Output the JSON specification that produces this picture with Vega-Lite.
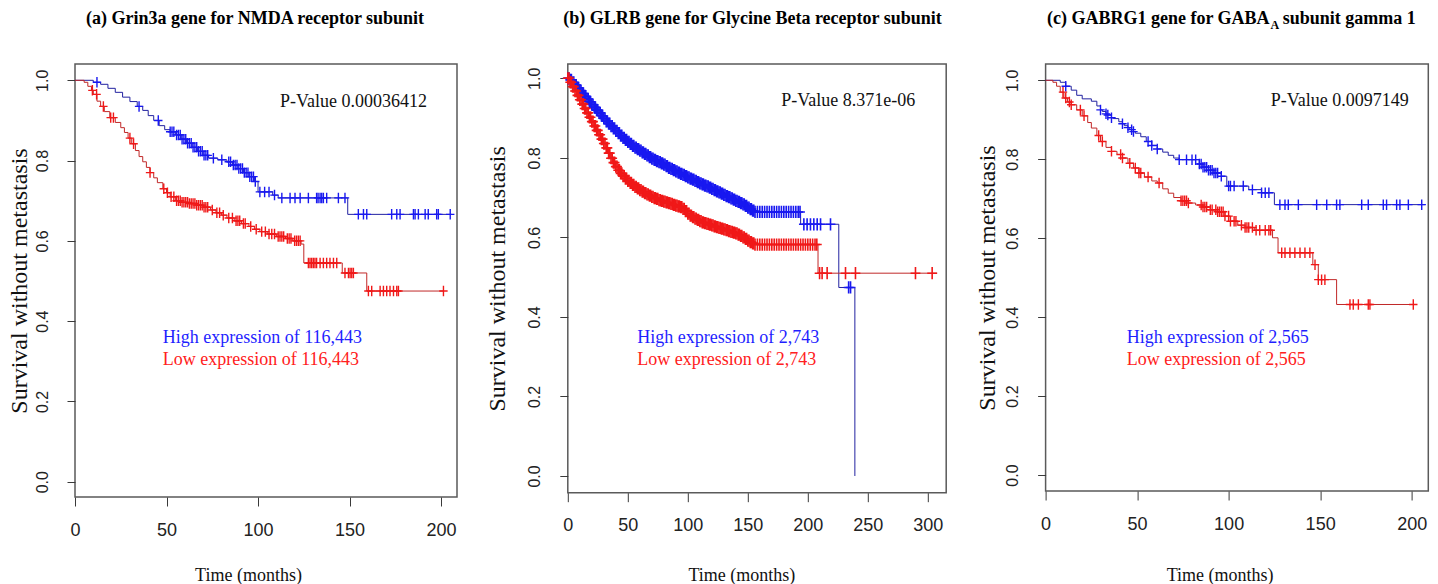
{
"$schema": "https://vega.github.io/schema/vega-lite/v6.json",
"background": "white",
"padding": {"left": 6, "top": 9, "right": 0, "bottom": 0},
"spacing": 26.8,
"bounds": "full",
"config": {
 "view": {"stroke": "#5a5a5a", "strokeWidth": 1.5},
 "axis": {"grid": false, "domain": false, "tickColor": "#3a3a3a", "tickWidth": 1, "labelColor": "#222222", "labelFont": "Liberation Sans", "titleFont": "Liberation Serif", "titleFontWeight": "normal", "titleColor": "#111111", "labelFlush": false, "labelOverlap": false},
 "axisX": {"tickSize": 9, "labelFontSize": 18, "labelPadding": 15, "titleFontSize": 18, "titleAlign": "center", "titleBaseline": "alphabetic", "titleAngle": 0},
 "axisY": {"tickSize": 8, "labelFontSize": 16, "labelAngle": 270, "labelAlign": "center", "labelBaseline": "bottom", "labelPadding": 17, "titleFontSize": 24, "titleAngle": 270, "titleAlign": "center", "titleBaseline": "middle"}
},
"hconcat": [
{
 "width": 382, "height": 433,
 "encoding": {
  "x": {"field": "x", "type": "quantitative", "scale": {"domain": [0, 208.7], "nice": false, "zero": false}, "axis": {"values": [0, 50, 100, 150, 200], "title": "Time (months)", "titleX": 173, "titleY": 83}},
  "y": {"field": "y", "type": "quantitative", "scale": {"domain": [-0.0381, 1.0406], "nice": false, "zero": false}, "axis": {"values": [0, 0.2, 0.4, 0.6, 0.8, 1], "format": ".1f", "title": "Survival without metastasis", "titleX": -55.5, "titleY": 216.5}}
 },
 "layer": [
  {"data": {"values": [
{"g":"H","x":0,"y":1,"c":0},{"g":"H","x":10,"y":0.995,"c":0},{"g":"H","x":12,"y":0.995,"c":1},{"g":"H","x":14,"y":0.99,"c":0},{"g":"H","x":18,"y":0.98,"c":0},{"g":"H","x":22,"y":0.97,"c":0},{"g":"H","x":26,"y":0.958,"c":0},{"g":"H","x":30,"y":0.947,"c":0},{"g":"H","x":34,"y":0.935,"c":0},{"g":"H","x":35,"y":0.935,"c":1},{"g":"H","x":37,"y":0.925,"c":0},{"g":"H","x":40,"y":0.912,"c":0},{"g":"H","x":43,"y":0.9,"c":0},{"g":"H","x":45.5,"y":0.9,"c":1},{"g":"H","x":46,"y":0.887,"c":0},{"g":"H","x":49,"y":0.877,"c":0},{"g":"H","x":52,"y":0.872,"c":1},{"g":"H","x":53,"y":0.872,"c":1},{"g":"H","x":54,"y":0.872,"c":1},{"g":"H","x":55,"y":0.864,"c":0},{"g":"H","x":55.5,"y":0.864,"c":1},{"g":"H","x":56.5,"y":0.864,"c":1},{"g":"H","x":57.5,"y":0.864,"c":1},{"g":"H","x":58,"y":0.853,"c":0},{"g":"H","x":58.5,"y":0.853,"c":1},{"g":"H","x":59.5,"y":0.853,"c":1},{"g":"H","x":60.5,"y":0.853,"c":1},{"g":"H","x":61,"y":0.843,"c":0},{"g":"H","x":61.5,"y":0.843,"c":1},{"g":"H","x":62.5,"y":0.843,"c":1},{"g":"H","x":63.5,"y":0.843,"c":1},{"g":"H","x":64,"y":0.833,"c":0},{"g":"H","x":64.5,"y":0.833,"c":1},{"g":"H","x":65.5,"y":0.833,"c":1},{"g":"H","x":66.5,"y":0.833,"c":1},{"g":"H","x":67,"y":0.823,"c":0},{"g":"H","x":67.5,"y":0.823,"c":1},{"g":"H","x":68.5,"y":0.823,"c":1},{"g":"H","x":69.5,"y":0.823,"c":1},{"g":"H","x":70,"y":0.813,"c":0},{"g":"H","x":70.5,"y":0.813,"c":1},{"g":"H","x":71.5,"y":0.813,"c":1},{"g":"H","x":72.5,"y":0.813,"c":1},{"g":"H","x":73,"y":0.806,"c":0},{"g":"H","x":75.6,"y":0.806,"c":1},{"g":"H","x":78,"y":0.802,"c":0},{"g":"H","x":80.2,"y":0.802,"c":1},{"g":"H","x":83,"y":0.797,"c":0},{"g":"H","x":84,"y":0.797,"c":1},{"g":"H","x":85,"y":0.797,"c":1},{"g":"H","x":86,"y":0.789,"c":0},{"g":"H","x":86.5,"y":0.789,"c":1},{"g":"H","x":87.5,"y":0.789,"c":1},{"g":"H","x":88.5,"y":0.789,"c":1},{"g":"H","x":89,"y":0.78,"c":0},{"g":"H","x":89.5,"y":0.78,"c":1},{"g":"H","x":90.5,"y":0.78,"c":1},{"g":"H","x":91.5,"y":0.78,"c":1},{"g":"H","x":92,"y":0.77,"c":0},{"g":"H","x":92.5,"y":0.77,"c":1},{"g":"H","x":93.5,"y":0.77,"c":1},{"g":"H","x":94.5,"y":0.77,"c":1},{"g":"H","x":95,"y":0.76,"c":0},{"g":"H","x":95.5,"y":0.76,"c":1},{"g":"H","x":96.5,"y":0.76,"c":1},{"g":"H","x":97.5,"y":0.76,"c":1},{"g":"H","x":98,"y":0.748,"c":0},{"g":"H","x":98.5,"y":0.748,"c":1},{"g":"H","x":100,"y":0.722,"c":0},{"g":"H","x":101,"y":0.722,"c":1},{"g":"H","x":103.6,"y":0.722,"c":1},{"g":"H","x":106,"y":0.722,"c":1},{"g":"H","x":108,"y":0.714,"c":0},{"g":"H","x":109,"y":0.714,"c":1},{"g":"H","x":111,"y":0.707,"c":0},{"g":"H","x":113,"y":0.707,"c":1},{"g":"H","x":117.5,"y":0.707,"c":1},{"g":"H","x":120.2,"y":0.707,"c":1},{"g":"H","x":123,"y":0.707,"c":1},{"g":"H","x":127.5,"y":0.707,"c":1},{"g":"H","x":132,"y":0.707,"c":1},{"g":"H","x":132.8,"y":0.707,"c":1},{"g":"H","x":133.9,"y":0.707,"c":1},{"g":"H","x":134.8,"y":0.707,"c":1},{"g":"H","x":135.7,"y":0.707,"c":1},{"g":"H","x":137.5,"y":0.707,"c":1},{"g":"H","x":143.9,"y":0.707,"c":1},{"g":"H","x":147.5,"y":0.707,"c":1},{"g":"H","x":149,"y":0.666,"c":0},{"g":"H","x":154.8,"y":0.666,"c":1},{"g":"H","x":157.6,"y":0.666,"c":1},{"g":"H","x":159.4,"y":0.666,"c":1},{"g":"H","x":173,"y":0.666,"c":1},{"g":"H","x":175.8,"y":0.666,"c":1},{"g":"H","x":177.6,"y":0.666,"c":1},{"g":"H","x":184.9,"y":0.666,"c":1},{"g":"H","x":185.8,"y":0.666,"c":1},{"g":"H","x":187.6,"y":0.666,"c":1},{"g":"H","x":191.3,"y":0.666,"c":1},{"g":"H","x":193,"y":0.666,"c":1},{"g":"H","x":197.6,"y":0.666,"c":1},{"g":"H","x":198.5,"y":0.666,"c":1},{"g":"H","x":205,"y":0.666,"c":1},{"g":"H","x":205.8,"y":0.666,"c":0},
{"g":"L","x":0,"y":1,"c":0},{"g":"L","x":5,"y":0.995,"c":0},{"g":"L","x":7,"y":0.985,"c":0},{"g":"L","x":9,"y":0.975,"c":0},{"g":"L","x":9.5,"y":0.975,"c":1},{"g":"L","x":10,"y":0.965,"c":0},{"g":"L","x":11.8,"y":0.965,"c":1},{"g":"L","x":12,"y":0.948,"c":0},{"g":"L","x":14,"y":0.935,"c":0},{"g":"L","x":15.5,"y":0.935,"c":1},{"g":"L","x":16,"y":0.922,"c":0},{"g":"L","x":19,"y":0.907,"c":0},{"g":"L","x":19.5,"y":0.907,"c":1},{"g":"L","x":21,"y":0.907,"c":1},{"g":"L","x":22,"y":0.895,"c":0},{"g":"L","x":25,"y":0.882,"c":0},{"g":"L","x":27,"y":0.87,"c":0},{"g":"L","x":29,"y":0.856,"c":0},{"g":"L","x":30,"y":0.856,"c":1},{"g":"L","x":31,"y":0.842,"c":0},{"g":"L","x":32,"y":0.842,"c":1},{"g":"L","x":33,"y":0.825,"c":0},{"g":"L","x":35,"y":0.81,"c":0},{"g":"L","x":37,"y":0.797,"c":0},{"g":"L","x":39,"y":0.783,"c":0},{"g":"L","x":41,"y":0.77,"c":1},{"g":"L","x":43,"y":0.757,"c":0},{"g":"L","x":45,"y":0.745,"c":0},{"g":"L","x":48,"y":0.73,"c":0},{"g":"L","x":48.5,"y":0.73,"c":1},{"g":"L","x":50,"y":0.72,"c":0},{"g":"L","x":50.5,"y":0.72,"c":1},{"g":"L","x":52,"y":0.71,"c":0},{"g":"L","x":52.5,"y":0.71,"c":1},{"g":"L","x":54,"y":0.71,"c":1},{"g":"L","x":55,"y":0.7,"c":0},{"g":"L","x":55.5,"y":0.7,"c":1},{"g":"L","x":56.5,"y":0.7,"c":1},{"g":"L","x":57.5,"y":0.7,"c":1},{"g":"L","x":58,"y":0.696,"c":0},{"g":"L","x":58.5,"y":0.696,"c":1},{"g":"L","x":59.5,"y":0.696,"c":1},{"g":"L","x":60.5,"y":0.696,"c":1},{"g":"L","x":61.5,"y":0.696,"c":1},{"g":"L","x":62,"y":0.693,"c":0},{"g":"L","x":62.5,"y":0.693,"c":1},{"g":"L","x":63.5,"y":0.693,"c":1},{"g":"L","x":64.5,"y":0.693,"c":1},{"g":"L","x":65.5,"y":0.693,"c":1},{"g":"L","x":66,"y":0.689,"c":0},{"g":"L","x":66.5,"y":0.689,"c":1},{"g":"L","x":67.5,"y":0.689,"c":1},{"g":"L","x":68.5,"y":0.689,"c":1},{"g":"L","x":69.5,"y":0.689,"c":1},{"g":"L","x":70,"y":0.684,"c":0},{"g":"L","x":70.5,"y":0.684,"c":1},{"g":"L","x":71.5,"y":0.684,"c":1},{"g":"L","x":72.5,"y":0.684,"c":1},{"g":"L","x":74,"y":0.677,"c":0},{"g":"L","x":75,"y":0.677,"c":1},{"g":"L","x":77,"y":0.67,"c":0},{"g":"L","x":77.5,"y":0.67,"c":1},{"g":"L","x":79,"y":0.67,"c":1},{"g":"L","x":80,"y":0.664,"c":0},{"g":"L","x":81,"y":0.664,"c":1},{"g":"L","x":83,"y":0.657,"c":0},{"g":"L","x":84,"y":0.657,"c":1},{"g":"L","x":86,"y":0.657,"c":1},{"g":"L","x":87,"y":0.65,"c":0},{"g":"L","x":88,"y":0.65,"c":1},{"g":"L","x":89,"y":0.65,"c":1},{"g":"L","x":90,"y":0.65,"c":1},{"g":"L","x":91,"y":0.643,"c":0},{"g":"L","x":92,"y":0.643,"c":1},{"g":"L","x":93,"y":0.643,"c":1},{"g":"L","x":95,"y":0.636,"c":0},{"g":"L","x":96,"y":0.636,"c":1},{"g":"L","x":98,"y":0.629,"c":0},{"g":"L","x":99,"y":0.629,"c":1},{"g":"L","x":101,"y":0.623,"c":0},{"g":"L","x":102,"y":0.623,"c":1},{"g":"L","x":104,"y":0.623,"c":1},{"g":"L","x":105,"y":0.617,"c":0},{"g":"L","x":106,"y":0.617,"c":1},{"g":"L","x":107.5,"y":0.617,"c":1},{"g":"L","x":109,"y":0.617,"c":1},{"g":"L","x":110,"y":0.611,"c":0},{"g":"L","x":111,"y":0.611,"c":1},{"g":"L","x":112,"y":0.611,"c":1},{"g":"L","x":113,"y":0.611,"c":1},{"g":"L","x":114,"y":0.611,"c":1},{"g":"L","x":115,"y":0.606,"c":0},{"g":"L","x":116,"y":0.606,"c":1},{"g":"L","x":117,"y":0.606,"c":1},{"g":"L","x":118,"y":0.606,"c":1},{"g":"L","x":119,"y":0.6,"c":0},{"g":"L","x":120,"y":0.6,"c":1},{"g":"L","x":121,"y":0.6,"c":1},{"g":"L","x":122,"y":0.6,"c":1},{"g":"L","x":123,"y":0.6,"c":1},{"g":"L","x":123.5,"y":0.592,"c":0},{"g":"L","x":125,"y":0.545,"c":0},{"g":"L","x":127.5,"y":0.545,"c":1},{"g":"L","x":128.4,"y":0.545,"c":1},{"g":"L","x":129.3,"y":0.545,"c":1},{"g":"L","x":130.2,"y":0.545,"c":1},{"g":"L","x":131.1,"y":0.545,"c":1},{"g":"L","x":132,"y":0.545,"c":1},{"g":"L","x":133.9,"y":0.545,"c":1},{"g":"L","x":135.7,"y":0.545,"c":1},{"g":"L","x":137.5,"y":0.545,"c":1},{"g":"L","x":139.3,"y":0.545,"c":1},{"g":"L","x":141.2,"y":0.545,"c":1},{"g":"L","x":143,"y":0.545,"c":1},{"g":"L","x":146,"y":0.52,"c":0},{"g":"L","x":147.5,"y":0.52,"c":1},{"g":"L","x":149.4,"y":0.52,"c":1},{"g":"L","x":150.3,"y":0.52,"c":1},{"g":"L","x":151.2,"y":0.52,"c":1},{"g":"L","x":152.1,"y":0.52,"c":1},{"g":"L","x":159.4,"y":0.475,"c":0},{"g":"L","x":160.3,"y":0.475,"c":1},{"g":"L","x":162.1,"y":0.475,"c":1},{"g":"L","x":166.7,"y":0.475,"c":1},{"g":"L","x":168.5,"y":0.475,"c":1},{"g":"L","x":170.3,"y":0.475,"c":1},{"g":"L","x":172.1,"y":0.475,"c":1},{"g":"L","x":174,"y":0.475,"c":1},{"g":"L","x":175.8,"y":0.475,"c":1},{"g":"L","x":176.7,"y":0.475,"c":1},{"g":"L","x":201.3,"y":0.475,"c":1},{"g":"L","x":201.6,"y":0.475,"c":0}
  ]},
  "layer": [
   {"mark": {"type": "line", "interpolate": "step-after", "strokeWidth": 1}, "encoding": {"color": {"field": "g", "type": "nominal", "scale": {"domain": ["H", "L"], "range": ["#2222a0", "#c02828"]}, "legend": null}}},
   {"transform": [{"filter": "datum.c == 1"}], "mark": {"type": "point", "shape": "M-0.8,0H0.8M0,-1V1", "size": 110, "strokeWidth": 1.4, "filled": false, "opacity": 1}, "encoding": {"stroke": {"field": "g", "type": "nominal", "scale": {"domain": ["H", "L"], "range": ["#1818f0", "#f01818"]}, "legend": null}}}
  ]},
  {"data": {"values": [{"x": 112, "y": 0.946, "t": "P-Value 0.00036412"}]}, "mark": {"type": "text", "align": "left", "baseline": "middle", "font": "Liberation Serif", "fontSize": 18, "color": "#111111"}, "encoding": {"text": {"field": "t"}}},
  {"data": {"values": [{"x": 47.9, "y": 0.357, "t": "High expression of 116,443"}]}, "mark": {"type": "text", "align": "left", "baseline": "middle", "font": "Liberation Serif", "fontSize": 18, "color": "#1f1fff"}, "encoding": {"text": {"field": "t"}}},
  {"data": {"values": [{"x": 47.9, "y": 0.303, "t": "Low expression of 116,443"}]}, "mark": {"type": "text", "align": "left", "baseline": "middle", "font": "Liberation Serif", "fontSize": 18, "color": "#ff2020"}, "encoding": {"text": {"field": "t"}}},
  {"data": {"values": [{"x": 98.4, "y": 1.1392, "t": "(a) Grin3a gene for NMDA receptor subunit"}]}, "mark": {"type": "text", "align": "center", "baseline": "alphabetic", "font": "Liberation Serif", "fontWeight": "bold", "fontSize": 18, "color": "#000000"}, "encoding": {"text": {"field": "t"}}}
 ]
},
{
 "width": 378.4, "height": 428.7,
 "encoding": {
  "x": {"field": "x", "type": "quantitative", "scale": {"domain": [0, 315.3], "nice": false, "zero": false}, "axis": {"values": [0, 50, 100, 150, 200, 250, 300], "title": "Time (months)", "titleX": 173.5, "titleY": 87.3}},
  "y": {"field": "y", "type": "quantitative", "scale": {"domain": [-0.042, 1.036], "nice": false, "zero": false}, "axis": {"values": [0, 0.2, 0.4, 0.6, 0.8, 1], "format": ".1f", "title": "Survival without metastasis", "titleX": -70, "titleY": 214.4}}
 },
 "layer": [
  {"data": {"values": [
{"g":"H","x":0,"y":1,"c":1},{"g":"H","x":1,"y":1,"c":1},{"g":"H","x":2,"y":0.996,"c":1},{"g":"H","x":3,"y":0.996,"c":1},{"g":"H","x":4,"y":0.99,"c":1},{"g":"H","x":5,"y":0.99,"c":1},{"g":"H","x":6,"y":0.983,"c":1},{"g":"H","x":7,"y":0.983,"c":1},{"g":"H","x":8,"y":0.976,"c":1},{"g":"H","x":9,"y":0.976,"c":1},{"g":"H","x":10,"y":0.969,"c":1},{"g":"H","x":11,"y":0.969,"c":1},{"g":"H","x":12,"y":0.962,"c":1},{"g":"H","x":13,"y":0.962,"c":1},{"g":"H","x":14,"y":0.955,"c":1},{"g":"H","x":15,"y":0.955,"c":1},{"g":"H","x":16,"y":0.948,"c":1},{"g":"H","x":17,"y":0.948,"c":1},{"g":"H","x":18,"y":0.941,"c":1},{"g":"H","x":19,"y":0.941,"c":1},{"g":"H","x":20,"y":0.934,"c":1},{"g":"H","x":21,"y":0.934,"c":1},{"g":"H","x":22,"y":0.927,"c":1},{"g":"H","x":23,"y":0.927,"c":1},{"g":"H","x":24,"y":0.92,"c":1},{"g":"H","x":25,"y":0.92,"c":1},{"g":"H","x":26,"y":0.913,"c":1},{"g":"H","x":27,"y":0.913,"c":1},{"g":"H","x":28,"y":0.906,"c":1},{"g":"H","x":29,"y":0.906,"c":1},{"g":"H","x":30,"y":0.899,"c":1},{"g":"H","x":31,"y":0.899,"c":1},{"g":"H","x":32,"y":0.892,"c":1},{"g":"H","x":33,"y":0.892,"c":1},{"g":"H","x":34,"y":0.886,"c":1},{"g":"H","x":35,"y":0.886,"c":1},{"g":"H","x":36,"y":0.88,"c":1},{"g":"H","x":37,"y":0.88,"c":1},{"g":"H","x":38,"y":0.874,"c":1},{"g":"H","x":39,"y":0.874,"c":1},{"g":"H","x":40,"y":0.868,"c":1},{"g":"H","x":41,"y":0.868,"c":1},{"g":"H","x":42,"y":0.862,"c":1},{"g":"H","x":43,"y":0.862,"c":1},{"g":"H","x":44,"y":0.856,"c":1},{"g":"H","x":45,"y":0.856,"c":1},{"g":"H","x":46,"y":0.85,"c":1},{"g":"H","x":47,"y":0.85,"c":1},{"g":"H","x":48,"y":0.845,"c":1},{"g":"H","x":49,"y":0.845,"c":1},{"g":"H","x":50,"y":0.84,"c":1},{"g":"H","x":51,"y":0.84,"c":1},{"g":"H","x":52,"y":0.835,"c":1},{"g":"H","x":53,"y":0.835,"c":1},{"g":"H","x":54,"y":0.83,"c":1},{"g":"H","x":55,"y":0.83,"c":1},{"g":"H","x":56,"y":0.826,"c":1},{"g":"H","x":57,"y":0.826,"c":1},{"g":"H","x":58,"y":0.822,"c":1},{"g":"H","x":59,"y":0.822,"c":1},{"g":"H","x":60,"y":0.818,"c":1},{"g":"H","x":61,"y":0.818,"c":1},{"g":"H","x":62,"y":0.814,"c":1},{"g":"H","x":63,"y":0.814,"c":1},{"g":"H","x":64,"y":0.81,"c":1},{"g":"H","x":65,"y":0.81,"c":1},{"g":"H","x":66,"y":0.806,"c":1},{"g":"H","x":67,"y":0.806,"c":1},{"g":"H","x":68,"y":0.802,"c":1},{"g":"H","x":69,"y":0.802,"c":1},{"g":"H","x":70,"y":0.798,"c":1},{"g":"H","x":71,"y":0.798,"c":1},{"g":"H","x":72,"y":0.795,"c":1},{"g":"H","x":73,"y":0.795,"c":1},{"g":"H","x":74,"y":0.792,"c":1},{"g":"H","x":75,"y":0.792,"c":1},{"g":"H","x":76,"y":0.789,"c":1},{"g":"H","x":77,"y":0.789,"c":1},{"g":"H","x":78,"y":0.786,"c":1},{"g":"H","x":79,"y":0.786,"c":1},{"g":"H","x":80,"y":0.783,"c":1},{"g":"H","x":81,"y":0.783,"c":1},{"g":"H","x":82,"y":0.779,"c":1},{"g":"H","x":83,"y":0.779,"c":1},{"g":"H","x":84,"y":0.775,"c":1},{"g":"H","x":85,"y":0.775,"c":1},{"g":"H","x":86,"y":0.772,"c":1},{"g":"H","x":87,"y":0.772,"c":1},{"g":"H","x":88,"y":0.769,"c":1},{"g":"H","x":89,"y":0.769,"c":1},{"g":"H","x":90,"y":0.766,"c":1},{"g":"H","x":91,"y":0.766,"c":1},{"g":"H","x":92,"y":0.763,"c":1},{"g":"H","x":93,"y":0.763,"c":1},{"g":"H","x":94,"y":0.76,"c":1},{"g":"H","x":95,"y":0.76,"c":1},{"g":"H","x":96,"y":0.757,"c":1},{"g":"H","x":97,"y":0.757,"c":1},{"g":"H","x":98,"y":0.754,"c":1},{"g":"H","x":99,"y":0.754,"c":1},{"g":"H","x":100,"y":0.751,"c":1},{"g":"H","x":101,"y":0.751,"c":1},{"g":"H","x":102,"y":0.748,"c":1},{"g":"H","x":103,"y":0.748,"c":1},{"g":"H","x":104,"y":0.745,"c":1},{"g":"H","x":105,"y":0.745,"c":1},{"g":"H","x":106,"y":0.742,"c":1},{"g":"H","x":107,"y":0.742,"c":1},{"g":"H","x":108,"y":0.739,"c":1},{"g":"H","x":109,"y":0.739,"c":1},{"g":"H","x":110,"y":0.736,"c":1},{"g":"H","x":111,"y":0.736,"c":1},{"g":"H","x":112,"y":0.733,"c":1},{"g":"H","x":113,"y":0.733,"c":1},{"g":"H","x":114,"y":0.73,"c":1},{"g":"H","x":115,"y":0.73,"c":1},{"g":"H","x":116,"y":0.728,"c":1},{"g":"H","x":117,"y":0.728,"c":1},{"g":"H","x":118,"y":0.725,"c":1},{"g":"H","x":119,"y":0.725,"c":1},{"g":"H","x":120,"y":0.722,"c":1},{"g":"H","x":121,"y":0.722,"c":1},{"g":"H","x":122,"y":0.719,"c":1},{"g":"H","x":123,"y":0.719,"c":1},{"g":"H","x":124,"y":0.716,"c":1},{"g":"H","x":125,"y":0.716,"c":1},{"g":"H","x":126,"y":0.713,"c":1},{"g":"H","x":127,"y":0.713,"c":1},{"g":"H","x":128,"y":0.71,"c":1},{"g":"H","x":129,"y":0.71,"c":1},{"g":"H","x":130,"y":0.707,"c":1},{"g":"H","x":131,"y":0.707,"c":1},{"g":"H","x":132,"y":0.704,"c":1},{"g":"H","x":133,"y":0.704,"c":1},{"g":"H","x":134,"y":0.701,"c":1},{"g":"H","x":135,"y":0.701,"c":1},{"g":"H","x":136,"y":0.698,"c":1},{"g":"H","x":137,"y":0.698,"c":1},{"g":"H","x":138,"y":0.695,"c":1},{"g":"H","x":139,"y":0.695,"c":1},{"g":"H","x":140,"y":0.692,"c":1},{"g":"H","x":141,"y":0.692,"c":1},{"g":"H","x":142,"y":0.689,"c":1},{"g":"H","x":143,"y":0.689,"c":1},{"g":"H","x":144,"y":0.686,"c":1},{"g":"H","x":145,"y":0.686,"c":1},{"g":"H","x":146,"y":0.683,"c":1},{"g":"H","x":147,"y":0.683,"c":1},{"g":"H","x":148,"y":0.679,"c":1},{"g":"H","x":149,"y":0.679,"c":1},{"g":"H","x":150,"y":0.675,"c":1},{"g":"H","x":151,"y":0.675,"c":1},{"g":"H","x":152,"y":0.671,"c":1},{"g":"H","x":153,"y":0.671,"c":1},{"g":"H","x":154,"y":0.667,"c":1},{"g":"H","x":155,"y":0.667,"c":1},{"g":"H","x":156,"y":0.664,"c":1},{"g":"H","x":158,"y":0.664,"c":1},{"g":"H","x":160,"y":0.664,"c":1},{"g":"H","x":162,"y":0.664,"c":1},{"g":"H","x":164,"y":0.664,"c":1},{"g":"H","x":166,"y":0.664,"c":1},{"g":"H","x":168,"y":0.664,"c":1},{"g":"H","x":170,"y":0.664,"c":1},{"g":"H","x":172,"y":0.664,"c":1},{"g":"H","x":174,"y":0.664,"c":1},{"g":"H","x":176,"y":0.664,"c":1},{"g":"H","x":178,"y":0.664,"c":1},{"g":"H","x":180,"y":0.664,"c":1},{"g":"H","x":182,"y":0.664,"c":1},{"g":"H","x":184,"y":0.664,"c":1},{"g":"H","x":186,"y":0.664,"c":1},{"g":"H","x":188,"y":0.664,"c":1},{"g":"H","x":190,"y":0.664,"c":1},{"g":"H","x":192,"y":0.664,"c":1},{"g":"H","x":193.5,"y":0.664,"c":1},{"g":"H","x":194,"y":0.633,"c":0},{"g":"H","x":196.7,"y":0.633,"c":1},{"g":"H","x":199.4,"y":0.633,"c":1},{"g":"H","x":202.2,"y":0.633,"c":1},{"g":"H","x":205,"y":0.633,"c":1},{"g":"H","x":207.8,"y":0.633,"c":1},{"g":"H","x":210.6,"y":0.633,"c":1},{"g":"H","x":218.9,"y":0.633,"c":1},{"g":"H","x":225.8,"y":0.474,"c":0},{"g":"H","x":234,"y":0.474,"c":1},{"g":"H","x":235.6,"y":0.474,"c":1},{"g":"H","x":239.2,"y":0,"c":0},
{"g":"L","x":0,"y":1,"c":1},{"g":"L","x":1,"y":1,"c":1},{"g":"L","x":2,"y":0.99,"c":1},{"g":"L","x":3,"y":0.99,"c":1},{"g":"L","x":4,"y":0.979,"c":1},{"g":"L","x":5,"y":0.979,"c":1},{"g":"L","x":6,"y":0.968,"c":1},{"g":"L","x":7,"y":0.968,"c":1},{"g":"L","x":8,"y":0.957,"c":1},{"g":"L","x":9,"y":0.957,"c":1},{"g":"L","x":10,"y":0.946,"c":1},{"g":"L","x":11,"y":0.946,"c":1},{"g":"L","x":12,"y":0.935,"c":1},{"g":"L","x":13,"y":0.935,"c":1},{"g":"L","x":14,"y":0.924,"c":1},{"g":"L","x":15,"y":0.924,"c":1},{"g":"L","x":16,"y":0.913,"c":1},{"g":"L","x":17,"y":0.913,"c":1},{"g":"L","x":18,"y":0.902,"c":1},{"g":"L","x":19,"y":0.902,"c":1},{"g":"L","x":20,"y":0.891,"c":1},{"g":"L","x":21,"y":0.891,"c":1},{"g":"L","x":22,"y":0.88,"c":1},{"g":"L","x":23,"y":0.88,"c":1},{"g":"L","x":24,"y":0.869,"c":1},{"g":"L","x":25,"y":0.869,"c":1},{"g":"L","x":26,"y":0.858,"c":1},{"g":"L","x":27,"y":0.858,"c":1},{"g":"L","x":28,"y":0.847,"c":1},{"g":"L","x":29,"y":0.847,"c":1},{"g":"L","x":30,"y":0.836,"c":1},{"g":"L","x":31,"y":0.836,"c":1},{"g":"L","x":32,"y":0.825,"c":1},{"g":"L","x":33,"y":0.825,"c":1},{"g":"L","x":34,"y":0.812,"c":1},{"g":"L","x":35,"y":0.812,"c":1},{"g":"L","x":36,"y":0.799,"c":1},{"g":"L","x":37,"y":0.799,"c":1},{"g":"L","x":38,"y":0.788,"c":1},{"g":"L","x":39,"y":0.788,"c":1},{"g":"L","x":40,"y":0.778,"c":1},{"g":"L","x":41,"y":0.778,"c":1},{"g":"L","x":42,"y":0.769,"c":1},{"g":"L","x":43,"y":0.769,"c":1},{"g":"L","x":44,"y":0.761,"c":1},{"g":"L","x":45,"y":0.761,"c":1},{"g":"L","x":46,"y":0.754,"c":1},{"g":"L","x":47,"y":0.754,"c":1},{"g":"L","x":48,"y":0.748,"c":1},{"g":"L","x":49,"y":0.748,"c":1},{"g":"L","x":50,"y":0.742,"c":1},{"g":"L","x":51,"y":0.742,"c":1},{"g":"L","x":52,"y":0.737,"c":1},{"g":"L","x":53,"y":0.737,"c":1},{"g":"L","x":54,"y":0.732,"c":1},{"g":"L","x":55,"y":0.732,"c":1},{"g":"L","x":56,"y":0.727,"c":1},{"g":"L","x":57,"y":0.727,"c":1},{"g":"L","x":58,"y":0.723,"c":1},{"g":"L","x":59,"y":0.723,"c":1},{"g":"L","x":60,"y":0.719,"c":1},{"g":"L","x":61,"y":0.719,"c":1},{"g":"L","x":62,"y":0.715,"c":1},{"g":"L","x":63,"y":0.715,"c":1},{"g":"L","x":64,"y":0.711,"c":1},{"g":"L","x":65,"y":0.711,"c":1},{"g":"L","x":66,"y":0.708,"c":1},{"g":"L","x":67,"y":0.708,"c":1},{"g":"L","x":68,"y":0.705,"c":1},{"g":"L","x":69,"y":0.705,"c":1},{"g":"L","x":70,"y":0.702,"c":1},{"g":"L","x":71,"y":0.702,"c":1},{"g":"L","x":72,"y":0.699,"c":1},{"g":"L","x":73,"y":0.699,"c":1},{"g":"L","x":74,"y":0.697,"c":1},{"g":"L","x":75,"y":0.697,"c":1},{"g":"L","x":76,"y":0.694,"c":1},{"g":"L","x":77,"y":0.694,"c":1},{"g":"L","x":78,"y":0.692,"c":1},{"g":"L","x":79,"y":0.692,"c":1},{"g":"L","x":80,"y":0.69,"c":1},{"g":"L","x":81,"y":0.69,"c":1},{"g":"L","x":82,"y":0.688,"c":1},{"g":"L","x":83,"y":0.688,"c":1},{"g":"L","x":84,"y":0.686,"c":1},{"g":"L","x":85,"y":0.686,"c":1},{"g":"L","x":86,"y":0.684,"c":1},{"g":"L","x":87,"y":0.684,"c":1},{"g":"L","x":88,"y":0.682,"c":1},{"g":"L","x":89,"y":0.682,"c":1},{"g":"L","x":90,"y":0.68,"c":1},{"g":"L","x":91,"y":0.68,"c":1},{"g":"L","x":92,"y":0.678,"c":1},{"g":"L","x":93,"y":0.678,"c":1},{"g":"L","x":94,"y":0.676,"c":1},{"g":"L","x":95,"y":0.676,"c":1},{"g":"L","x":96,"y":0.672,"c":1},{"g":"L","x":97,"y":0.672,"c":1},{"g":"L","x":98,"y":0.666,"c":1},{"g":"L","x":99,"y":0.666,"c":1},{"g":"L","x":100,"y":0.66,"c":1},{"g":"L","x":101,"y":0.66,"c":1},{"g":"L","x":102,"y":0.655,"c":1},{"g":"L","x":103,"y":0.655,"c":1},{"g":"L","x":104,"y":0.651,"c":1},{"g":"L","x":105,"y":0.651,"c":1},{"g":"L","x":106,"y":0.647,"c":1},{"g":"L","x":107,"y":0.647,"c":1},{"g":"L","x":108,"y":0.644,"c":1},{"g":"L","x":109,"y":0.644,"c":1},{"g":"L","x":110,"y":0.641,"c":1},{"g":"L","x":111,"y":0.641,"c":1},{"g":"L","x":112,"y":0.638,"c":1},{"g":"L","x":113,"y":0.638,"c":1},{"g":"L","x":114,"y":0.636,"c":1},{"g":"L","x":115,"y":0.636,"c":1},{"g":"L","x":116,"y":0.634,"c":1},{"g":"L","x":117,"y":0.634,"c":1},{"g":"L","x":118,"y":0.632,"c":1},{"g":"L","x":119,"y":0.632,"c":1},{"g":"L","x":120,"y":0.63,"c":1},{"g":"L","x":121,"y":0.63,"c":1},{"g":"L","x":122,"y":0.628,"c":1},{"g":"L","x":123,"y":0.628,"c":1},{"g":"L","x":124,"y":0.626,"c":1},{"g":"L","x":125,"y":0.626,"c":1},{"g":"L","x":126,"y":0.624,"c":1},{"g":"L","x":127,"y":0.624,"c":1},{"g":"L","x":128,"y":0.622,"c":1},{"g":"L","x":129,"y":0.622,"c":1},{"g":"L","x":130,"y":0.62,"c":1},{"g":"L","x":131,"y":0.62,"c":1},{"g":"L","x":132,"y":0.618,"c":1},{"g":"L","x":133,"y":0.618,"c":1},{"g":"L","x":134,"y":0.616,"c":1},{"g":"L","x":135,"y":0.616,"c":1},{"g":"L","x":136,"y":0.614,"c":1},{"g":"L","x":137,"y":0.614,"c":1},{"g":"L","x":138,"y":0.612,"c":1},{"g":"L","x":139,"y":0.612,"c":1},{"g":"L","x":140,"y":0.61,"c":1},{"g":"L","x":141,"y":0.61,"c":1},{"g":"L","x":142,"y":0.607,"c":1},{"g":"L","x":143,"y":0.607,"c":1},{"g":"L","x":144,"y":0.604,"c":1},{"g":"L","x":145,"y":0.604,"c":1},{"g":"L","x":146,"y":0.6,"c":1},{"g":"L","x":147,"y":0.6,"c":1},{"g":"L","x":148,"y":0.596,"c":1},{"g":"L","x":149,"y":0.596,"c":1},{"g":"L","x":150,"y":0.592,"c":1},{"g":"L","x":151,"y":0.592,"c":1},{"g":"L","x":152,"y":0.588,"c":1},{"g":"L","x":153,"y":0.588,"c":1},{"g":"L","x":154,"y":0.585,"c":1},{"g":"L","x":155,"y":0.585,"c":1},{"g":"L","x":156,"y":0.582,"c":1},{"g":"L","x":158,"y":0.582,"c":1},{"g":"L","x":160,"y":0.582,"c":1},{"g":"L","x":162,"y":0.582,"c":1},{"g":"L","x":164,"y":0.582,"c":1},{"g":"L","x":166,"y":0.582,"c":1},{"g":"L","x":168,"y":0.582,"c":1},{"g":"L","x":170,"y":0.582,"c":1},{"g":"L","x":172,"y":0.582,"c":1},{"g":"L","x":174,"y":0.582,"c":1},{"g":"L","x":176,"y":0.582,"c":1},{"g":"L","x":178,"y":0.582,"c":1},{"g":"L","x":180,"y":0.582,"c":1},{"g":"L","x":182,"y":0.582,"c":1},{"g":"L","x":184,"y":0.582,"c":1},{"g":"L","x":186,"y":0.582,"c":1},{"g":"L","x":188,"y":0.582,"c":1},{"g":"L","x":190,"y":0.582,"c":1},{"g":"L","x":192,"y":0.582,"c":1},{"g":"L","x":194,"y":0.582,"c":1},{"g":"L","x":196,"y":0.582,"c":1},{"g":"L","x":198,"y":0.582,"c":1},{"g":"L","x":200,"y":0.582,"c":1},{"g":"L","x":202,"y":0.582,"c":1},{"g":"L","x":204,"y":0.582,"c":1},{"g":"L","x":206,"y":0.582,"c":1},{"g":"L","x":207.5,"y":0.582,"c":1},{"g":"L","x":208.5,"y":0.51,"c":0},{"g":"L","x":209.8,"y":0.51,"c":1},{"g":"L","x":211.9,"y":0.51,"c":1},{"g":"L","x":216.1,"y":0.51,"c":1},{"g":"L","x":231.4,"y":0.51,"c":1},{"g":"L","x":239.7,"y":0.51,"c":1},{"g":"L","x":289.7,"y":0.51,"c":1},{"g":"L","x":303.6,"y":0.51,"c":1},{"g":"L","x":307.8,"y":0.51,"c":0}
  ]},
  "layer": [
   {"mark": {"type": "line", "interpolate": "step-after", "strokeWidth": 1}, "encoding": {"color": {"field": "g", "type": "nominal", "scale": {"domain": ["H", "L"], "range": ["#2222a0", "#c02828"]}, "legend": null}}},
   {"transform": [{"filter": "datum.c == 1"}], "mark": {"type": "point", "shape": "M-0.8,0H0.8M0,-1V1", "size": 150, "strokeWidth": 1.6, "filled": false, "opacity": 1}, "encoding": {"stroke": {"field": "g", "type": "nominal", "scale": {"domain": ["H", "L"], "range": ["#1818f0", "#f01818"]}, "legend": null}}}
  ]},
  {"data": {"values": [{"x": 177.8, "y": 0.943, "t": "P-Value 8.371e-06"}]}, "mark": {"type": "text", "align": "left", "baseline": "middle", "font": "Liberation Serif", "fontSize": 18, "color": "#111111"}, "encoding": {"text": {"field": "t"}}},
  {"data": {"values": [{"x": 57.8, "y": 0.346, "t": "High expression of 2,743"}]}, "mark": {"type": "text", "align": "left", "baseline": "middle", "font": "Liberation Serif", "fontSize": 18, "color": "#1f1fff"}, "encoding": {"text": {"field": "t"}}},
  {"data": {"values": [{"x": 57.8, "y": 0.292, "t": "Low expression of 2,743"}]}, "mark": {"type": "text", "align": "left", "baseline": "middle", "font": "Liberation Serif", "fontSize": 18, "color": "#ff2020"}, "encoding": {"text": {"field": "t"}}},
  {"data": {"values": [{"x": 153.9, "y": 1.1358, "t": "(b) GLRB gene for Glycine Beta receptor subunit"}]}, "mark": {"type": "text", "align": "center", "baseline": "alphabetic", "font": "Liberation Serif", "fontWeight": "bold", "fontSize": 18, "color": "#000000"}, "encoding": {"text": {"field": "t"}}}
 ]
},
{
 "width": 382.7, "height": 427,
 "encoding": {
  "x": {"field": "x", "type": "quantitative", "scale": {"domain": [0, 209.1], "nice": false, "zero": false}, "axis": {"values": [0, 50, 100, 150, 200], "title": "Time (months)", "titleX": 174, "titleY": 89}},
  "y": {"field": "y", "type": "quantitative", "scale": {"domain": [-0.0405, 1.0413], "nice": false, "zero": false}, "axis": {"values": [0, 0.2, 0.4, 0.6, 0.8, 1], "format": ".1f", "title": "Survival without metastasis", "titleX": -58, "titleY": 213.5}}
 },
 "layer": [
  {"data": {"values": [
{"g":"H","x":0,"y":1,"c":0},{"g":"H","x":8,"y":0.995,"c":0},{"g":"H","x":11,"y":0.985,"c":1},{"g":"H","x":14,"y":0.975,"c":0},{"g":"H","x":17,"y":0.962,"c":0},{"g":"H","x":20,"y":0.953,"c":0},{"g":"H","x":25,"y":0.947,"c":0},{"g":"H","x":28,"y":0.935,"c":0},{"g":"H","x":30,"y":0.925,"c":1},{"g":"H","x":31,"y":0.921,"c":0},{"g":"H","x":33,"y":0.915,"c":1},{"g":"H","x":34,"y":0.912,"c":1},{"g":"H","x":36,"y":0.905,"c":1},{"g":"H","x":37,"y":0.903,"c":0},{"g":"H","x":40,"y":0.895,"c":0},{"g":"H","x":42,"y":0.89,"c":1},{"g":"H","x":43,"y":0.885,"c":0},{"g":"H","x":45,"y":0.88,"c":1},{"g":"H","x":46,"y":0.875,"c":0},{"g":"H","x":47,"y":0.875,"c":1},{"g":"H","x":48,"y":0.87,"c":1},{"g":"H","x":49,"y":0.866,"c":0},{"g":"H","x":52,"y":0.857,"c":0},{"g":"H","x":55,"y":0.845,"c":0},{"g":"H","x":56,"y":0.845,"c":1},{"g":"H","x":58,"y":0.835,"c":1},{"g":"H","x":61,"y":0.826,"c":1},{"g":"H","x":64,"y":0.818,"c":0},{"g":"H","x":67,"y":0.81,"c":0},{"g":"H","x":70,"y":0.803,"c":0},{"g":"H","x":73,"y":0.799,"c":1},{"g":"H","x":77,"y":0.799,"c":1},{"g":"H","x":80,"y":0.799,"c":1},{"g":"H","x":82,"y":0.799,"c":1},{"g":"H","x":84,"y":0.788,"c":1},{"g":"H","x":85,"y":0.788,"c":1},{"g":"H","x":86,"y":0.78,"c":1},{"g":"H","x":87,"y":0.78,"c":1},{"g":"H","x":88,"y":0.78,"c":1},{"g":"H","x":89,"y":0.772,"c":1},{"g":"H","x":90,"y":0.772,"c":1},{"g":"H","x":91,"y":0.772,"c":1},{"g":"H","x":92,"y":0.765,"c":1},{"g":"H","x":93,"y":0.765,"c":1},{"g":"H","x":94,"y":0.765,"c":1},{"g":"H","x":96,"y":0.757,"c":1},{"g":"H","x":99,"y":0.732,"c":0},{"g":"H","x":100,"y":0.732,"c":1},{"g":"H","x":101,"y":0.732,"c":1},{"g":"H","x":103,"y":0.732,"c":1},{"g":"H","x":108,"y":0.732,"c":1},{"g":"H","x":111,"y":0.723,"c":0},{"g":"H","x":113,"y":0.723,"c":1},{"g":"H","x":118,"y":0.715,"c":1},{"g":"H","x":120,"y":0.715,"c":1},{"g":"H","x":122,"y":0.715,"c":1},{"g":"H","x":125,"y":0.685,"c":0},{"g":"H","x":128,"y":0.685,"c":1},{"g":"H","x":130.8,"y":0.685,"c":1},{"g":"H","x":132.6,"y":0.685,"c":1},{"g":"H","x":138.1,"y":0.685,"c":1},{"g":"H","x":148.1,"y":0.685,"c":1},{"g":"H","x":153.6,"y":0.685,"c":1},{"g":"H","x":159,"y":0.685,"c":1},{"g":"H","x":160.8,"y":0.685,"c":1},{"g":"H","x":172.7,"y":0.685,"c":1},{"g":"H","x":176.3,"y":0.685,"c":1},{"g":"H","x":184.5,"y":0.685,"c":1},{"g":"H","x":186.3,"y":0.685,"c":1},{"g":"H","x":191.8,"y":0.685,"c":1},{"g":"H","x":193.6,"y":0.685,"c":1},{"g":"H","x":198.2,"y":0.685,"c":1},{"g":"H","x":205.5,"y":0.685,"c":1},{"g":"H","x":207.3,"y":0.685,"c":0},
{"g":"L","x":0,"y":1,"c":0},{"g":"L","x":4,"y":0.995,"c":0},{"g":"L","x":6,"y":0.985,"c":0},{"g":"L","x":8,"y":0.97,"c":0},{"g":"L","x":9.5,"y":0.97,"c":1},{"g":"L","x":10,"y":0.955,"c":0},{"g":"L","x":11,"y":0.955,"c":1},{"g":"L","x":12,"y":0.945,"c":0},{"g":"L","x":13,"y":0.945,"c":1},{"g":"L","x":14,"y":0.938,"c":1},{"g":"L","x":17,"y":0.925,"c":0},{"g":"L","x":19,"y":0.925,"c":1},{"g":"L","x":20,"y":0.91,"c":0},{"g":"L","x":21,"y":0.91,"c":1},{"g":"L","x":23,"y":0.893,"c":0},{"g":"L","x":25,"y":0.879,"c":0},{"g":"L","x":28,"y":0.86,"c":0},{"g":"L","x":29,"y":0.86,"c":1},{"g":"L","x":30,"y":0.845,"c":0},{"g":"L","x":31,"y":0.845,"c":1},{"g":"L","x":33,"y":0.83,"c":0},{"g":"L","x":36,"y":0.82,"c":1},{"g":"L","x":39,"y":0.812,"c":0},{"g":"L","x":41,"y":0.812,"c":1},{"g":"L","x":42,"y":0.803,"c":1},{"g":"L","x":45,"y":0.79,"c":0},{"g":"L","x":46,"y":0.79,"c":1},{"g":"L","x":48,"y":0.778,"c":0},{"g":"L","x":49,"y":0.778,"c":1},{"g":"L","x":51,"y":0.765,"c":1},{"g":"L","x":52,"y":0.765,"c":1},{"g":"L","x":54,"y":0.755,"c":0},{"g":"L","x":56,"y":0.755,"c":1},{"g":"L","x":58,"y":0.745,"c":0},{"g":"L","x":61,"y":0.74,"c":0},{"g":"L","x":62,"y":0.74,"c":1},{"g":"L","x":64,"y":0.725,"c":0},{"g":"L","x":67,"y":0.714,"c":0},{"g":"L","x":70,"y":0.703,"c":0},{"g":"L","x":74,"y":0.695,"c":1},{"g":"L","x":75,"y":0.695,"c":1},{"g":"L","x":76,"y":0.695,"c":1},{"g":"L","x":77,"y":0.695,"c":1},{"g":"L","x":78,"y":0.689,"c":1},{"g":"L","x":82,"y":0.684,"c":0},{"g":"L","x":85,"y":0.684,"c":1},{"g":"L","x":86,"y":0.679,"c":1},{"g":"L","x":87,"y":0.679,"c":1},{"g":"L","x":88,"y":0.679,"c":1},{"g":"L","x":90,"y":0.672,"c":1},{"g":"L","x":91,"y":0.672,"c":1},{"g":"L","x":93,"y":0.672,"c":1},{"g":"L","x":94,"y":0.667,"c":1},{"g":"L","x":95,"y":0.667,"c":1},{"g":"L","x":96,"y":0.667,"c":1},{"g":"L","x":97,"y":0.667,"c":1},{"g":"L","x":98,"y":0.656,"c":1},{"g":"L","x":100,"y":0.656,"c":1},{"g":"L","x":101,"y":0.643,"c":1},{"g":"L","x":103,"y":0.643,"c":1},{"g":"L","x":104,"y":0.643,"c":1},{"g":"L","x":105,"y":0.633,"c":0},{"g":"L","x":107,"y":0.633,"c":1},{"g":"L","x":109,"y":0.627,"c":1},{"g":"L","x":110,"y":0.627,"c":1},{"g":"L","x":111,"y":0.627,"c":1},{"g":"L","x":113,"y":0.627,"c":1},{"g":"L","x":114,"y":0.62,"c":0},{"g":"L","x":115,"y":0.62,"c":1},{"g":"L","x":117,"y":0.62,"c":1},{"g":"L","x":120,"y":0.62,"c":1},{"g":"L","x":122,"y":0.62,"c":1},{"g":"L","x":123,"y":0.62,"c":1},{"g":"L","x":124,"y":0.601,"c":0},{"g":"L","x":127,"y":0.563,"c":0},{"g":"L","x":129,"y":0.563,"c":1},{"g":"L","x":130.8,"y":0.563,"c":1},{"g":"L","x":133.5,"y":0.563,"c":1},{"g":"L","x":136.2,"y":0.563,"c":1},{"g":"L","x":139,"y":0.563,"c":1},{"g":"L","x":141.7,"y":0.563,"c":1},{"g":"L","x":144.4,"y":0.563,"c":1},{"g":"L","x":146,"y":0.533,"c":0},{"g":"L","x":147.2,"y":0.533,"c":1},{"g":"L","x":149,"y":0.495,"c":1},{"g":"L","x":150.8,"y":0.495,"c":1},{"g":"L","x":152.6,"y":0.495,"c":1},{"g":"L","x":159,"y":0.432,"c":0},{"g":"L","x":166.3,"y":0.432,"c":1},{"g":"L","x":168.1,"y":0.432,"c":1},{"g":"L","x":170.9,"y":0.432,"c":1},{"g":"L","x":176.3,"y":0.432,"c":1},{"g":"L","x":177.2,"y":0.432,"c":1},{"g":"L","x":200.9,"y":0.432,"c":1},{"g":"L","x":202,"y":0.432,"c":0}
  ]},
  "layer": [
   {"mark": {"type": "line", "interpolate": "step-after", "strokeWidth": 1}, "encoding": {"color": {"field": "g", "type": "nominal", "scale": {"domain": ["H", "L"], "range": ["#2222a0", "#c02828"]}, "legend": null}}},
   {"transform": [{"filter": "datum.c == 1"}], "mark": {"type": "point", "shape": "M-0.8,0H0.8M0,-1V1", "size": 110, "strokeWidth": 1.4, "filled": false, "opacity": 1}, "encoding": {"stroke": {"field": "g", "type": "nominal", "scale": {"domain": ["H", "L"], "range": ["#1818f0", "#f01818"]}, "legend": null}}}
  ]},
  {"data": {"values": [{"x": 123, "y": 0.947, "t": "P-Value 0.0097149"}]}, "mark": {"type": "text", "align": "left", "baseline": "middle", "font": "Liberation Serif", "fontSize": 18, "color": "#111111"}, "encoding": {"text": {"field": "t"}}},
  {"data": {"values": [{"x": 44.3, "y": 0.347, "t": "High expression of 2,565"}]}, "mark": {"type": "text", "align": "left", "baseline": "middle", "font": "Liberation Serif", "fontSize": 18, "color": "#1f1fff"}, "encoding": {"text": {"field": "t"}}},
  {"data": {"values": [{"x": 44.3, "y": 0.291, "t": "Low expression of 2,565"}]}, "mark": {"type": "text", "align": "left", "baseline": "middle", "font": "Liberation Serif", "fontSize": 18, "color": "#ff2020"}, "encoding": {"text": {"field": "t"}}},
  {"data": {"values": [{"x": 122.4, "y": 1.1419, "t": "(c) GABRG1 gene for GABA"}]}, "mark": {"type": "text", "align": "right", "baseline": "alphabetic", "font": "Liberation Serif", "fontWeight": "bold", "fontSize": 18, "color": "#000000"}, "encoding": {"text": {"field": "t"}}},
  {"data": {"values": [{"x": 122.9, "y": 1.1312, "t": "A"}]}, "mark": {"type": "text", "align": "left", "baseline": "alphabetic", "font": "Liberation Serif", "fontWeight": "bold", "fontSize": 12, "color": "#000000"}, "encoding": {"text": {"field": "t"}}},
  {"data": {"values": [{"x": 129.6, "y": 1.1419, "t": "subunit gamma 1"}]}, "mark": {"type": "text", "align": "left", "baseline": "alphabetic", "font": "Liberation Serif", "fontWeight": "bold", "fontSize": 18, "color": "#000000"}, "encoding": {"text": {"field": "t"}}}
 ]
}
]
}
